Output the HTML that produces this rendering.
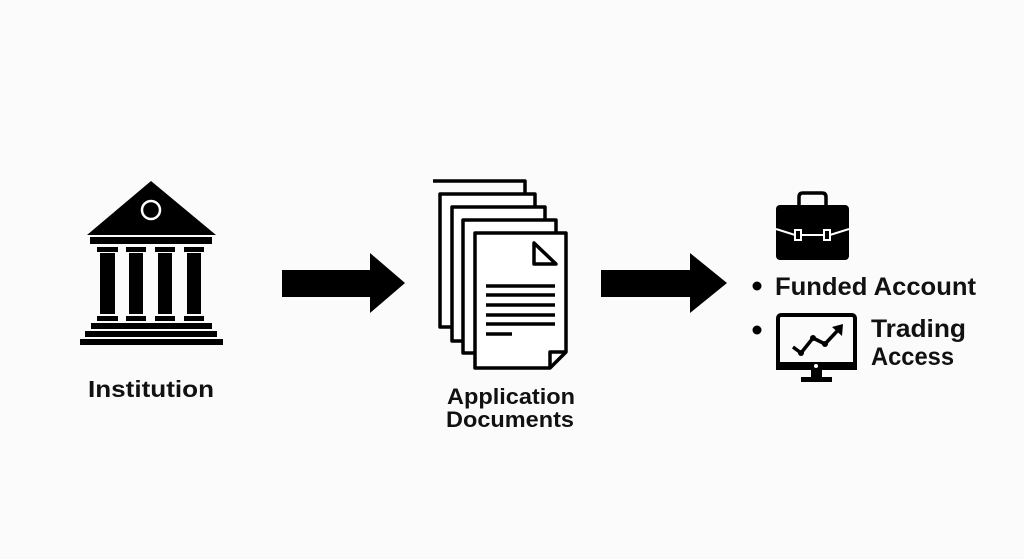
<!DOCTYPE html>
<html><head><meta charset="utf-8"><style>
html,body{margin:0;padding:0;background:#fbfbfb;}
svg{display:block}
text{font-family:"Liberation Sans","DejaVu Sans",sans-serif;font-weight:bold;fill:#111}
</style></head><body>
<svg width="1024" height="559" viewBox="0 0 1024 559" xmlns="http://www.w3.org/2000/svg">
<rect width="1024" height="559" fill="#fbfbfb"/>
<g fill="#000">
<polygon points="151,181 87,235 216,235"/>
<circle cx="151" cy="210" r="9" fill="none" stroke="#fff" stroke-width="2.5"/>
<rect x="90" y="237" width="122" height="7"/>
<rect x="97" y="247" width="21" height="5"/><rect x="126" y="247" width="20" height="5"/><rect x="155" y="247" width="20" height="5"/><rect x="184" y="247" width="20" height="5"/>
<rect x="100" y="253" width="15" height="61"/><rect x="129" y="253" width="14" height="61"/><rect x="158" y="253" width="14" height="61"/><rect x="187" y="253" width="14" height="61"/>
<rect x="97" y="316" width="21" height="5"/><rect x="126" y="316" width="20" height="5"/><rect x="155" y="316" width="20" height="5"/><rect x="184" y="316" width="20" height="5"/>
<rect x="91" y="323" width="121" height="6"/>
<rect x="85" y="331" width="132" height="6"/>
<rect x="80" y="339" width="143" height="6"/>
</g>
<text x="88" y="397" font-size="23" textLength="126" lengthAdjust="spacingAndGlyphs">Institution</text>
<polygon fill="#000" points="282,270 370,270 370,253 405,283 370,313 370,297 282,297"/>
<polygon fill="#000" points="601,270 690,270 690,253 727,283 690,313 690,297 601,297"/>
<g fill="#fff" stroke="#000" stroke-width="3.5" stroke-linejoin="round">
<polyline fill="none" points="433,181 525,181 525,194"/>
<rect x="440" y="194" width="95" height="133"/>
<rect x="452" y="207" width="93" height="134"/>
<rect x="463" y="220" width="93" height="133"/>
<polygon points="475,233 566,233 566,352 550,368 475,368"/>
<polygon points="534,243 534,264 556,264"/>
<polyline fill="none" points="550,368 550,352 566,352"/>
</g>
<g stroke="#000" stroke-width="3.5">
<line x1="486" y1="286" x2="555" y2="286"/>
<line x1="486" y1="295" x2="555" y2="295"/>
<line x1="486" y1="305" x2="555" y2="305"/>
<line x1="486" y1="315" x2="555" y2="315"/>
<line x1="486" y1="324" x2="555" y2="324"/>
<line x1="486" y1="334" x2="512" y2="334"/>
</g>
<text x="447" y="404" font-size="22" textLength="128" lengthAdjust="spacingAndGlyphs">Application</text>
<text x="446" y="427" font-size="22" textLength="128" lengthAdjust="spacingAndGlyphs">Documents</text>
<path d="M799,205 v-8 q0,-4 4,-4 h19 q4,0 4,4 v8" fill="none" stroke="#000" stroke-width="3.5"/>
<rect x="776" y="205" width="73" height="55" rx="4" fill="#000"/>
<path d="M776,229 L795,235 H830 L849,229" fill="none" stroke="#fff" stroke-width="2"/>
<rect x="795" y="230" width="6" height="10" fill="#000" stroke="#fff" stroke-width="2"/>
<rect x="824" y="230" width="6" height="10" fill="#000" stroke="#fff" stroke-width="2"/>
<circle cx="757" cy="286" r="4.5" fill="#000"/>
<text x="775" y="295" font-size="25" textLength="201" lengthAdjust="spacingAndGlyphs">Funded Account</text>
<circle cx="757" cy="330" r="4.5" fill="#000"/>
<rect x="778" y="315" width="77" height="52" rx="3" fill="none" stroke="#000" stroke-width="4"/>
<rect x="776" y="362" width="81" height="8" fill="#000"/>
<circle cx="816" cy="366" r="2" fill="#fff"/>
<rect x="811" y="370" width="11" height="8" fill="#000"/>
<rect x="801" y="377" width="31" height="5" fill="#000"/>
<polyline points="793,347 801,353 813,338 825,344 840,328" fill="none" stroke="#000" stroke-width="3.5" stroke-linejoin="round"/>
<polygon points="843,324 832,327 842,336" fill="#000"/>
<circle cx="801" cy="353" r="3" fill="#000"/><circle cx="813" cy="338" r="3" fill="#000"/><circle cx="825" cy="344" r="3" fill="#000"/>
<text x="871" y="337" font-size="25" textLength="95" lengthAdjust="spacingAndGlyphs">Trading</text>
<text x="871" y="365" font-size="25" textLength="83" lengthAdjust="spacingAndGlyphs">Access</text>
</svg>
</body></html>
